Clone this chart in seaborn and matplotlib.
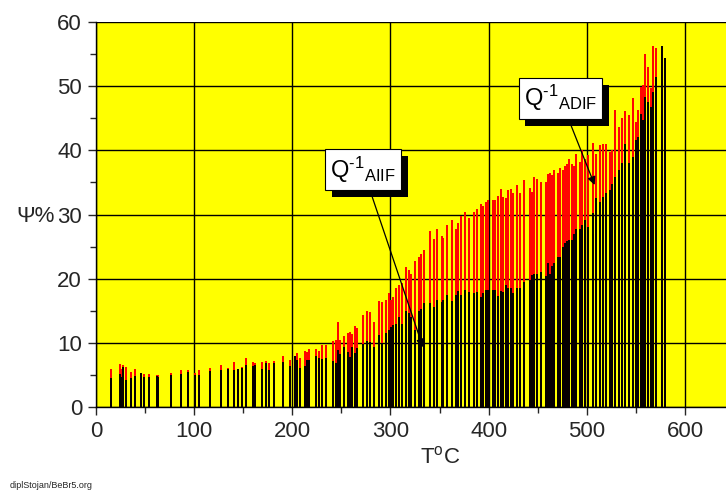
import matplotlib
matplotlib.use("Agg")
import matplotlib.pyplot as plt
import matplotlib.patheffects as pe
import seaborn as sns

# temperatures (deg C) of the measured runs
temp = [15, 24, 25, 28, 31, 36, 40, 46, 49, 54, 62, 63, 76, 87, 94, 101, 105, 116, 127, 134,
        141, 145, 149, 153, 160, 162, 169, 173, 176, 181, 191, 198, 203, 205, 208, 213, 215, 217, 224, 227,
        230, 234, 241, 245, 247, 249, 253, 257, 259, 261, 264, 266, 272, 276, 279, 283, 288, 291, 295, 298,
        301, 303, 306, 309, 312, 316, 319, 321, 325, 329, 331, 334, 340, 344, 347, 352, 354, 358, 363, 367,
        369, 372, 376, 380, 385, 388, 392, 394, 397, 399, 404, 406, 410, 413, 415, 418, 420, 423, 425, 429,
        432, 436, 442, 444, 446, 449, 453, 458, 460, 462, 465, 467, 471, 473, 476, 478, 480, 482, 485, 487,
        489, 493, 495, 498, 501, 506, 509, 513, 517, 520, 524, 526, 529, 533, 536, 539, 543, 547, 550, 552,
        555, 557, 559, 562, 565, 567, 570, 577, 580]

# Q^-1 ADIF (red, upper)
psi_adif = [5.9, 6.7, 5.9, 6.6, 6.3, 5.4, 5.9, 5.3, 5.2, 5.2, 5.0, 5.0, 5.3, 5.8, 5.8, 5.3, 5.7, 6.1, 6.6, 6.1,
            7.0, 5.9, 6.2, 7.6, 7.0, 6.8, 7.0, 7.2, 6.9, 7.2, 8.0, 7.3, 8.0, 8.4, 7.6, 8.7, 8.5, 9.1, 9.1, 8.8,
            9.6, 9.6, 10.3, 10.4, 13.3, 10.5, 11.1, 11.6, 11.7, 11.4, 12.7, 12.3, 14.3, 15.0, 14.8, 13.2, 16.5, 16.4, 16.6, 17.7,
            16.7, 17.2, 18.5, 19.0, 19.3, 21.8, 21.3, 20.8, 22.8, 23.3, 23.9, 24.4, 27.5, 26.2, 27.8, 26.6, 26.3, 28.3, 29.1, 27.7,
            28.7, 29.8, 30.4, 29.4, 30.4, 30.8, 31.6, 31.3, 32.0, 32.2, 32.3, 32.2, 32.9, 33.9, 32.8, 32.5, 33.8, 34.0, 33.4, 34.6,
            33.3, 35.3, 34.2, 33.5, 35.9, 35.6, 35.1, 35.1, 36.3, 36.4, 36.1, 37.0, 36.4, 37.3, 36.9, 37.5, 37.9, 38.7, 37.9, 37.5,
            39.5, 38.2, 40.0, 38.7, 39.3, 41.1, 39.5, 40.8, 41.0, 41.0, 39.8, 40.1, 46.3, 43.7, 45.0, 46.2, 45.5, 48.1, 44.4, 46.3,
            49.8, 50.2, 55.0, 53.0, 49.7, 56.2, 55.9, 56.2, 54.4]

# Q^-1 AIIF (black, lower)
psi_aiif = [4.5, 5.1, 4.6, 6.3, 4.2, 4.5, 4.8, 5.3, 4.7, 4.7, 4.8, 4.6, 5.0, 5.2, 5.5, 5.0, 5.0, 5.6, 5.8, 6.0,
            5.8, 5.9, 6.1, 6.6, 6.4, 6.5, 5.9, 6.8, 5.7, 6.9, 7.0, 6.4, 8.0, 7.3, 6.1, 6.4, 7.3, 7.3, 8.0, 7.7,
            7.5, 7.6, 7.1, 6.8, 8.9, 8.2, 9.4, 8.6, 7.8, 9.3, 8.4, 9.2, 9.8, 10.3, 10.2, 9.4, 11.2, 10.0, 11.5, 12.0,
            12.5, 12.8, 12.9, 14.1, 13.0, 14.9, 14.6, 14.1, 12.0, 14.9, 15.2, 16.2, 16.2, 15.6, 16.7, 16.3, 16.7, 17.4, 16.5, 17.4,
            18.1, 17.4, 18.3, 17.9, 17.8, 17.9, 17.2, 17.7, 18.2, 18.3, 18.2, 18.3, 17.3, 18.1, 17.9, 19.0, 18.6, 18.6, 17.8, 18.5,
            18.5, 19.5, 19.8, 20.6, 20.8, 20.8, 21.1, 20.4, 22.4, 20.8, 21.9, 22.4, 23.4, 23.4, 25.0, 25.5, 25.8, 26.0, 26.0, 27.0,
            27.8, 27.8, 28.3, 29.1, 28.1, 30.2, 32.5, 32.0, 32.8, 33.3, 33.8, 34.8, 35.9, 36.9, 38.0, 41.0, 38.0, 39.0, 41.6, 42.1,
            45.7, 44.7, 48.3, 47.6, 46.8, 49.1, 51.4, 56.2, 54.4]

x_ticks = [0, 100, 200, 300, 400, 500, 600]
y_ticks = [0, 10, 20, 30, 40, 50, 60]

sns.set_style("ticks")
plt.rcParams['font.family'] = ['Liberation Sans', 'DejaVu Sans']
plt.rcParams['mathtext.fontset'] = 'custom'
plt.rcParams['mathtext.rm'] = 'Liberation Sans'
plt.rcParams['mathtext.it'] = 'Liberation Sans'

fig = plt.figure(figsize=(7.26, 4.93), dpi=100)
ax = fig.add_axes([96 / 726, 86 / 493, 630 / 726, 385 / 493])
ax.set_facecolor('#ffff00')

ax.vlines(temp, 0, psi_adif, colors='#ff0000', lw=1.4, zorder=3)
ax.vlines(temp, 0, psi_aiif, colors='black', lw=1.4, zorder=4)

ax.set_xlim(0, 641.8)
ax.set_ylim(0, 60)
ax.set_xticks(x_ticks)
ax.set_yticks(y_ticks)
ax.set_xticks(range(50, 650, 100), minor=True)
ax.set_yticks(range(5, 60, 10), minor=True)
ax.grid(True, which='major', color='black', lw=1.0, zorder=2)
ax.set_axisbelow(False)
ax.tick_params(axis='both', which='major', direction='out', length=6, width=1, labelsize=16, pad=4)
ax.tick_params(axis='both', which='minor', direction='out', length=4, width=1)
for s in ['top', 'right']:
    ax.spines[s].set_visible(False)
for s in ['left', 'bottom']:
    ax.spines[s].set_color('black')
    ax.spines[s].set_linewidth(1.0)
    ax.spines[s].set_zorder(5)


def label_box(txt, xy, xytext):
    ax.annotate('', xy=xy, xytext=xytext,
                arrowprops=dict(arrowstyle='-|>', color='black', lw=0.9, mutation_scale=12), zorder=6)
    t = ax.text(*xytext, txt, fontsize=17, ha='center', va='center', color='black',
                bbox=dict(boxstyle='square,pad=0.22', fc='white', ec='black', lw=0.8), zorder=8)
    t.get_bbox_patch().set_path_effects([
        pe.SimplePatchShadow(offset=(5, -5), shadow_rgbFace='black', alpha=1.0),
        pe.Normal()])


label_box("Q$^{\\rm \u20101}{}_{\\rm AIIF}$", (334, 8.9), (272, 37.0))
label_box("Q$^{\\rm \u20101}{}_{\\rm ADIF}$", (509, 34.2), (473, 48.1))

fig.text(36 / 726, 1 - 216 / 493, "Ψ%", fontsize=16, ha='center', va='center')
fig.text(440 / 726, 1 - 457 / 493, r"T$^{\rm o}$C", fontsize=16, ha='center', va='center')
fig.text(10 / 726, 1 - 485 / 493, "diplStojan/BeBr5.org", fontsize=6.5, ha='left', va='center')

fig.savefig("out.png", dpi=100)
